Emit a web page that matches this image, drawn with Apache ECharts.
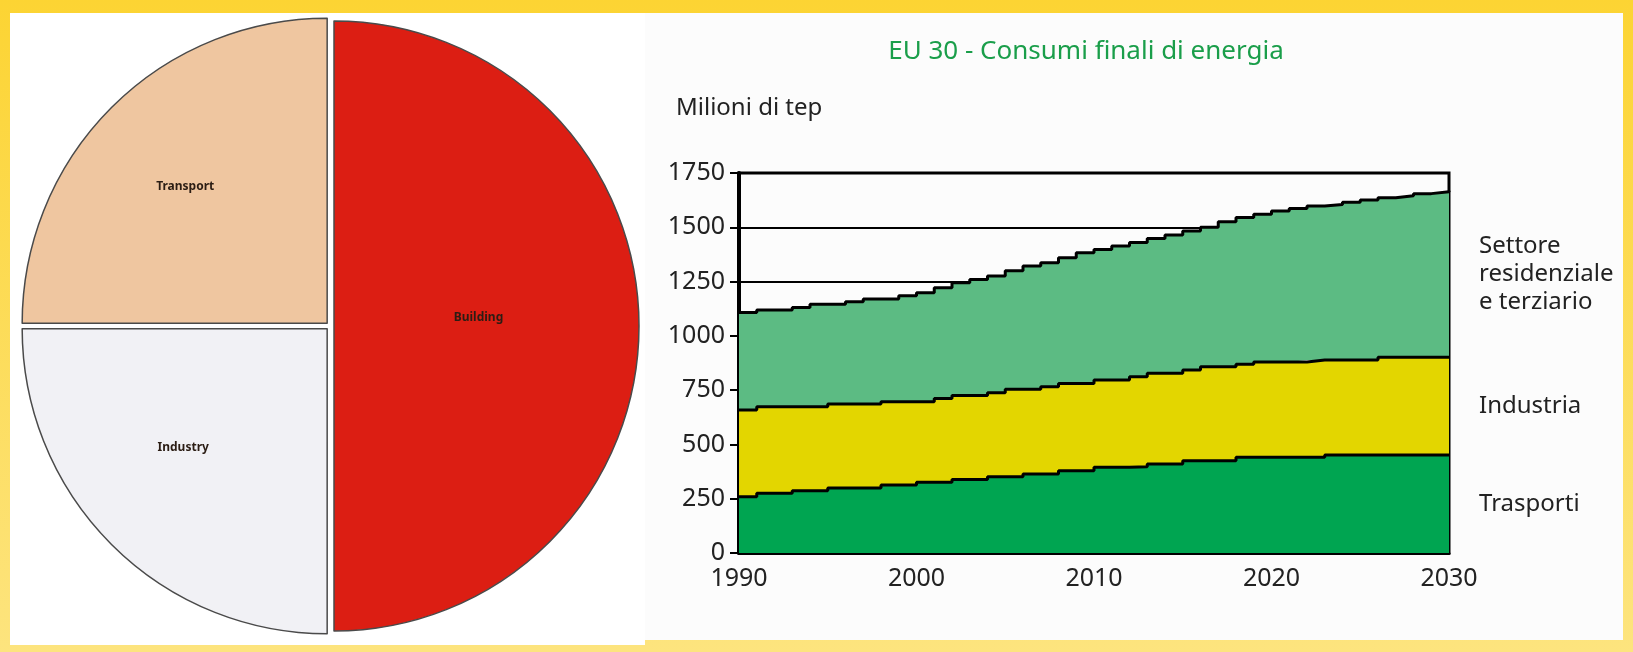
<!DOCTYPE html>
<html>
<head>
<meta charset="utf-8">
<script src="https://cdn.jsdelivr.net/npm/echarts@6/dist/echarts.min.js"></script>
<style>
html, body { margin: 0; padding: 0; }
body {
    width: 1633px; height: 652px; position: relative; overflow: hidden;
    background: linear-gradient(to bottom, #fcd433, #fde47e);
}
.panel { position: absolute; background: #fff; }
#leftPanel { left: 10px; top: 13px; width: 635px; height: 632px; }
#rightPanel { left: 645px; top: 13px; width: 978px; height: 627px; background: #fcfcfc; }
#chart { position: absolute; left: 0; top: 0; width: 1633px; height: 652px; }
</style>
</head>
<body>
<div class="panel" id="leftPanel"></div>
<div class="panel" id="rightPanel"></div>
<div id="chart"></div>
<script>
// pie (left)
const pieNames = ['Building', 'Industry', 'Transport'];
const pieValues = [50, 25, 25];
const pieColors = ['#dc1e13', '#f1f1f5', '#efc6a0'];
// small nudges of the slice labels away from the default inside spot
const pieLabelShift = [[-11, -8], [-34, 9], [-32, -27]];

// stacked area (right) - Mtep
const years = ['1990', '1991', '1992', '1993', '1994', '1995', '1996', '1997', '1998', '1999',
    '2000', '2001', '2002', '2003', '2004', '2005', '2006', '2007', '2008', '2009',
    '2010', '2011', '2012', '2013', '2014', '2015', '2016', '2017', '2018', '2019',
    '2020', '2021', '2022', '2023', '2024', '2025', '2026', '2027', '2028', '2029', '2030'];
const trasporti = [259, 275, 275, 287, 287, 299, 299, 299, 313, 313,
    326, 326, 339, 339, 351, 351, 364, 364, 379, 379,
    395, 395, 397, 410, 410, 425, 425, 425, 441, 441,
    441, 441, 441, 451, 451, 451, 451, 451, 451, 451, 451];
const industria = [399, 399, 399, 387, 387, 387, 387, 387, 384, 384,
    371, 386, 386, 386, 387, 403, 390, 402, 402, 402,
    402, 402, 415, 418, 418, 418, 433, 433, 428, 439,
    439, 439, 448, 438, 438, 438, 450, 450, 450, 450, 450];
const residenziale = [449, 445, 445, 457, 471, 459, 471, 484, 473, 488,
    502, 510, 520, 535, 538, 546, 568, 571, 579, 602,
    601, 617, 618, 620, 637, 640, 642, 668, 676, 680,
    695, 707, 709, 716, 726, 737, 735, 744, 754, 763, 767];
const yTicks = [0, 250, 500, 750, 1000, 1250, 1500, 1750];

const seriesDefs = [
    { name: 'Trasporti', label: 'Trasporti', values: trasporti, color: '#00a551' },
    { name: 'Industria', label: 'Industria', values: industria, color: '#e3d600' },
    { name: 'Settore residenziale e terziario', label: 'Settore\nresidenziale\ne terziario', values: residenziale, color: '#5cbb83' }
];

let myChart = echarts.init(document.getElementById('chart'));

let option = {
    animation: false,
    grid: {
        left: 739, right: 184, top: 173, bottom: 99,
        show: true,
        borderColor: '#000',
        borderWidth: 3,
        backgroundColor: 'transparent'
    },
    xAxis: {
        type: 'category',
        data: years,
        boundaryGap: false,
        axisLine: { show: true, onZero: false, lineStyle: { color: '#000', width: 3 } },
        axisTick: { show: false },
        splitLine: { show: false },
        axisLabel: {
            interval: 9,
            color: '#222', fontSize: 25, fontFamily: 'Noto Sans', margin: 13
        }
    },
    yAxis: {
        type: 'value',
        min: yTicks[0],
        max: yTicks[yTicks.length - 1],
        interval: yTicks[1] - yTicks[0],
        axisLine: { show: true, lineStyle: { color: '#000', width: 4 } },
        axisTick: { show: true, length: 9, lineStyle: { color: '#000', width: 2 } },
        axisLabel: {
            color: '#222', fontSize: 25, fontFamily: 'Noto Sans', margin: 14,
            padding: [0, 0, 12, 0],
            formatter: function (v) { return String(v); }
        },
        splitLine: { show: true, lineStyle: { color: '#000', width: 2 } }
    },
    series: [
        {
            type: 'pie',
            center: [330, 326],
            radius: 305,
            startAngle: 90,
            clockwise: true,
            selectedMode: 'multiple',
            selectedOffset: 4,
            emphasis: { disabled: true },
            data: pieNames.map(function (n, i) {
                return { name: n, value: pieValues[i], selected: true, itemStyle: { color: pieColors[i] } };
            }),
            itemStyle: { borderColor: '#4a4a4a', borderWidth: 1.5 },
            select: { itemStyle: { borderColor: '#4a4a4a', borderWidth: 1.5 } },
            label: {
                show: true, position: 'inside',
                color: '#2b1d14', fontSize: 12, fontWeight: 'bold', fontFamily: 'Noto Sans'
            },
            labelLine: { show: false },
            labelLayout: function (p) {
                return { dx: pieLabelShift[p.dataIndex][0], dy: pieLabelShift[p.dataIndex][1] };
            }
        }
    ].concat(seriesDefs.map(function (s) {
        return {
            type: 'line',
            name: s.name,
            stack: 'tot',
            step: 'end',
            symbol: 'none',
            silent: true,
            data: s.values,
            lineStyle: { color: '#000', width: 3 },
            areaStyle: { color: s.color, opacity: 1 }
        };
    }))
};
myChart.setOption(option);

// right-hand band labels, centred on each band at the last year
let lastIdx = years.length - 1;
let base = 0;
let graphics = [
    {
        type: 'text',
        style: {
            text: 'EU 30 - Consumi finali di energia', x: 1086, y: 52,
            font: '26px "Noto Sans"', fill: '#1a9e4a',
            align: 'center', verticalAlign: 'middle', textAlign: 'center', textVerticalAlign: 'middle'
        }
    },
    {
        type: 'text',
        style: {
            text: 'Milioni di tep', x: 676, y: 108,
            font: '24px "Noto Sans"', fill: '#222',
            align: 'left', verticalAlign: 'middle', textAlign: 'left', textVerticalAlign: 'middle'
        }
    }
];
seriesDefs.forEach(function (s) {
    let v = s.values[lastIdx];
    let pt = myChart.convertToPixel({ gridIndex: 0 }, [lastIdx, base + v / 2]);
    base += v;
    graphics.push({
        type: 'text',
        style: {
            text: s.label, x: pt[0] + 30, y: pt[1],
            font: '24px "Noto Sans"', fill: '#222', lineHeight: 28,
            align: 'left', verticalAlign: 'middle', textAlign: 'left', textVerticalAlign: 'middle'
        }
    });
});
myChart.setOption({ graphic: graphics });

window.addEventListener('resize', function () {
    myChart.resize();
});
</script>
</body>
</html>
